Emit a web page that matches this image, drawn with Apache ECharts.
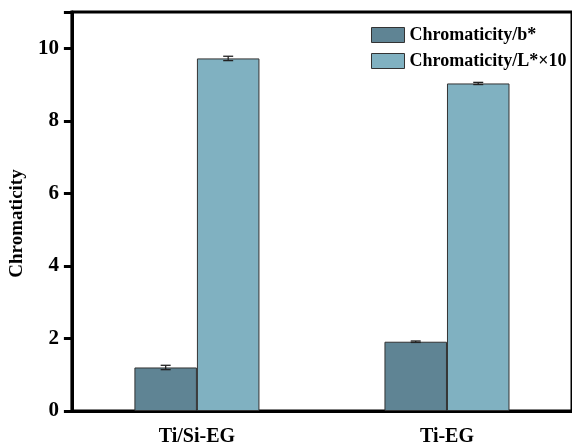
<!DOCTYPE html>
<html>
<head>
<meta charset="utf-8">
<script src="https://cdn.jsdelivr.net/npm/echarts@6/dist/echarts.min.js"></script>
<style>html,body{margin:0;padding:0;background:#fff}#c{width:572px;height:447px}</style>
</head>
<body>
<div id="c"></div>
<script>
const categories = ['Ti/Si-EG', 'Ti-EG'];
const seriesNames = ['Chromaticity/b*', 'Chromaticity/L*\u00d710'];
const bValues = [1.20, 1.91];
const bErrors = [0.06, 0.02];
const lValues = [9.72, 9.03];
const lErrors = [0.06, 0.03];
const yTicks = [0, 2, 4, 6, 8, 10];

const colors = ['#5f8494', '#80b1c1'];
const font = '"Liberation Serif", "Times New Roman", serif';

const chart = echarts.init(document.getElementById('c'), null, {renderer: 'canvas'});

function errorSeries(values, errors, idx) {
  const data = values.map((v, i) => [i, v, errors[i]]);
  return {
    type: 'custom',
    z: 10,
    silent: true,
    data: data,
    renderItem: function (params, api) {
      const band = api.size([1, 0])[0];
      const off = (idx === 0 ? -1 : 1) * band * 0.125;
      const c = api.coord([api.value(0), api.value(1)]);
      const x = c[0] + off;
      const hi = api.coord([api.value(0), api.value(1) + api.value(2)])[1];
      const lo = api.coord([api.value(0), api.value(1) - api.value(2)])[1];
      const w = 5;
      const st = {stroke: '#222', lineWidth: 1.3};
      return {
        type: 'group',
        children: [
          {type: 'line', shape: {x1: x, y1: hi, x2: x, y2: lo}, style: st},
          {type: 'line', shape: {x1: x - w, y1: hi, x2: x + w, y2: hi}, style: st},
          {type: 'line', shape: {x1: x - w, y1: lo, x2: x + w, y2: lo}, style: st}
        ]
      };
    }
  };
}

chart.setOption({
  animation: false,
  backgroundColor: '#fff',
  grid: {left: 66, right: -4, top: 12, bottom: 31, show: true, borderColor: '#000', borderWidth: 3},
  legend: {
    left: 366, top: 21,
    orient: 'vertical',
    icon: 'rect',
    itemWidth: 33, itemHeight: 15, itemGap: 8,
    data: seriesNames,
    textStyle: {fontFamily: font, fontWeight: 'bold', fontSize: 18, color: '#000'},
    itemStyle: {borderColor: '#333', borderWidth: 1}
  },
  xAxis: {
    type: 'category',
    data: categories,
    axisLine: {lineStyle: {color: '#000', width: 3}},
    axisTick: {alignWithLabel: true, length: 8, lineStyle: {color: '#333', width: 1}},
    axisLabel: {fontFamily: font, fontWeight: 'bold', fontSize: 20, color: '#000', margin: 16}
  },
  yAxis: {
    type: 'value',
    min: 0, max: 11, interval: 2,
    name: 'Chromaticity',
    nameLocation: 'middle',
    nameGap: 44,
    nameTextStyle: {fontFamily: font, fontWeight: 'bold', fontSize: 19, color: '#000', padding: [0, 24, 0, 0]},
    axisLine: {show: true, lineStyle: {color: '#000', width: 3}},
    axisTick: {show: true, length: 8, lineStyle: {color: '#000', width: 3}},
    splitLine: {show: false},
    axisLabel: {
      fontFamily: font, fontWeight: 'bold', fontSize: 21, color: '#000', margin: 13,
      formatter: v => yTicks.includes(v) ? String(v) : ''
    }
  },
  series: [
    {
      name: seriesNames[0], type: 'bar', data: bValues,
      barWidth: '25%', barGap: '0%',
      itemStyle: {color: colors[0], borderColor: '#333', borderWidth: 1}
    },
    {
      name: seriesNames[1], type: 'bar', data: lValues,
      barWidth: '25%', barGap: '0%',
      itemStyle: {color: colors[1], borderColor: '#333', borderWidth: 1}
    },
    errorSeries(bValues, bErrors, 0),
    errorSeries(lValues, lErrors, 1)
  ]
});
</script>
</body>
</html>
